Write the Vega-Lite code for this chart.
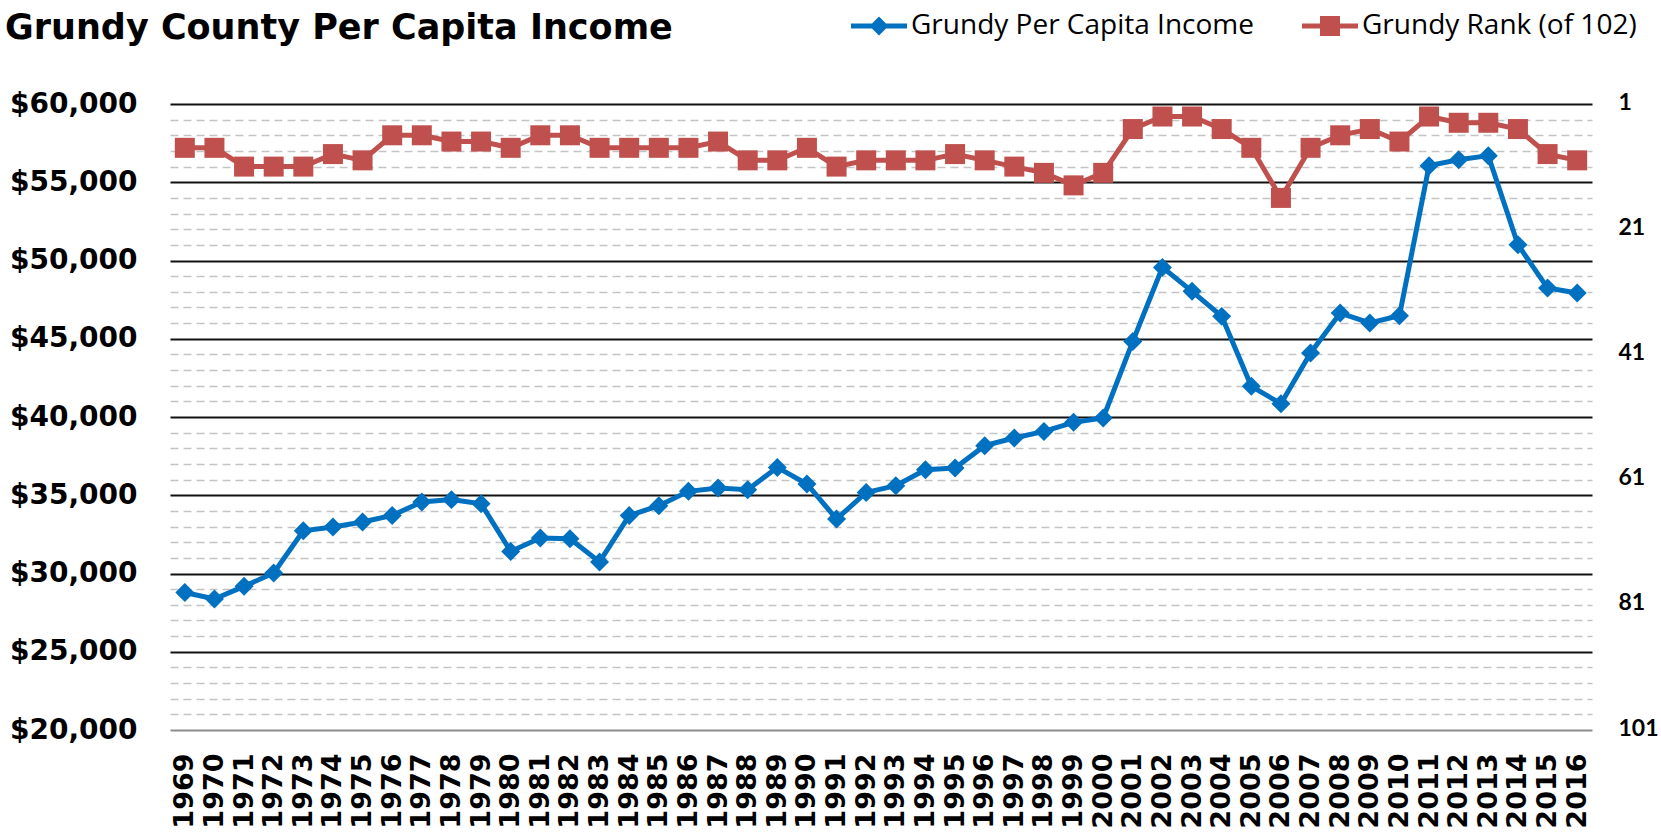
{
  "$schema": "https://vega.github.io/schema/vega-lite/v6.json",
  "width": 1422,
  "height": 626,
  "autosize": {"type": "none"},
  "padding": {"left": 170, "top": 104, "right": 69, "bottom": 106},
  "background": "white",
  "config": {"view": {"stroke": null}},
  "title": {"text": "Grundy County Per Capita Income", "anchor": "start", "frame": "group", "font": "DejaVu Sans", "fontSize": 35, "fontWeight": "bold", "color": "black", "dx": -165, "offset": 0, "dy": 34},
  "data": {"values": [
    {"year": 1969, "income": 28790, "rank": 8},
    {"year": 1970, "income": 28370, "rank": 8},
    {"year": 1971, "income": 29180, "rank": 11},
    {"year": 1972, "income": 30030, "rank": 11},
    {"year": 1973, "income": 32730, "rank": 11},
    {"year": 1974, "income": 32970, "rank": 9},
    {"year": 1975, "income": 33290, "rank": 10},
    {"year": 1976, "income": 33710, "rank": 6},
    {"year": 1977, "income": 34570, "rank": 6},
    {"year": 1978, "income": 34720, "rank": 7},
    {"year": 1979, "income": 34460, "rank": 7},
    {"year": 1980, "income": 31410, "rank": 8},
    {"year": 1981, "income": 32270, "rank": 6},
    {"year": 1982, "income": 32220, "rank": 6},
    {"year": 1983, "income": 30740, "rank": 8},
    {"year": 1984, "income": 33700, "rank": 8},
    {"year": 1985, "income": 34330, "rank": 8},
    {"year": 1986, "income": 35250, "rank": 8},
    {"year": 1987, "income": 35460, "rank": 7},
    {"year": 1988, "income": 35350, "rank": 10},
    {"year": 1989, "income": 36780, "rank": 10},
    {"year": 1990, "income": 35720, "rank": 8},
    {"year": 1991, "income": 33480, "rank": 11},
    {"year": 1992, "income": 35180, "rank": 10},
    {"year": 1993, "income": 35610, "rank": 10},
    {"year": 1994, "income": 36630, "rank": 10},
    {"year": 1995, "income": 36740, "rank": 9},
    {"year": 1996, "income": 38170, "rank": 10},
    {"year": 1997, "income": 38660, "rank": 11},
    {"year": 1998, "income": 39080, "rank": 12},
    {"year": 1999, "income": 39660, "rank": 14},
    {"year": 2000, "income": 39940, "rank": 12},
    {"year": 2001, "income": 44830, "rank": 5},
    {"year": 2002, "income": 49560, "rank": 3},
    {"year": 2003, "income": 48030, "rank": 3},
    {"year": 2004, "income": 46430, "rank": 5},
    {"year": 2005, "income": 41960, "rank": 8},
    {"year": 2006, "income": 40850, "rank": 16},
    {"year": 2007, "income": 44090, "rank": 8},
    {"year": 2008, "income": 46640, "rank": 6},
    {"year": 2009, "income": 46010, "rank": 5},
    {"year": 2010, "income": 46470, "rank": 7},
    {"year": 2011, "income": 56060, "rank": 3},
    {"year": 2012, "income": 56440, "rank": 4},
    {"year": 2013, "income": 56700, "rank": 4},
    {"year": 2014, "income": 51010, "rank": 5},
    {"year": 2015, "income": 48240, "rank": 9},
    {"year": 2016, "income": 47920, "rank": 10}
  ]},
  "encoding": {
    "x": {"field": "year", "type": "ordinal", "scale": {"type": "point", "padding": 0.5},
      "axis": {"title": null, "labelAngle": -90, "labelFont": "DejaVu Sans", "labelFontWeight": "bold", "labelFontSize": 27, "labelColor": "black", "ticks": false, "tickSize": 0, "domain": false, "grid": false, "labelPadding": 23, "labelOverlap": false}}
  },
  "layer": [
    {
      "mark": {"type": "line", "strokeWidth": 5, "point": {"shape": "diamond", "size": 360, "filled": true, "opacity": 1}},
      "encoding": {
        "y": {"field": "income", "type": "quantitative", "scale": {"domain": [20000, 60000], "nice": false, "zero": false},
          "axis": {"title": null, "orient": "left",
            "values": [20000,21000,22000,23000,24000,25000,26000,27000,28000,29000,30000,31000,32000,33000,34000,35000,36000,37000,38000,39000,40000,41000,42000,43000,44000,45000,46000,47000,48000,49000,50000,51000,52000,53000,54000,55000,56000,57000,58000,59000,60000],
            "labelExpr": "datum.value % 5000 === 0 ? '$' + format(datum.value, ',') : ''",
            "labelFont": "DejaVu Sans", "labelFontWeight": "bold", "labelFontSize": 28, "labelColor": "black", "labelPadding": 33, "labelOverlap": false, "labelBound": false, "labelFlush": false,
            "ticks": false, "tickSize": 0, "domain": false, "grid": true,
            "gridColor": {"condition": [{"test": "datum.value === 20000", "value": "#8c8c8c"}, {"test": "datum.value % 5000 === 0", "value": "#111111"}], "value": "#c4c4c4"},
            "gridDash": {"condition": {"test": "datum.value % 5000 === 0", "value": []}, "value": [8, 5]},
            "gridWidth": {"condition": {"test": "datum.value % 5000 === 0", "value": 1.8}, "value": 1.6}}},
        "color": {"datum": "Grundy Per Capita Income", "type": "nominal",
          "scale": {"domain": ["Grundy Per Capita Income", "Grundy Rank (of 102)"], "range": ["#0070C0", "#C0504D"]},
          "legend": {"orient": "none", "legendX": 677, "legendY": -92, "direction": "horizontal", "title": null, "padding": 0,
            "labelFont": "Open Sans", "labelFontSize": 28, "labelColor": "black", "labelLimit": 500, "symbolSize": 400, "symbolStrokeWidth": 0, "labelOffset": 36, "columnPadding": 44,
            "encode": {"symbols": {"update": {
              "shape": {"signal": "datum.value === 'Grundy Rank (of 102)' ? 'M-1,-0.25H4.6V0.25H-1Z M0.8,-1H2.8V1H0.8Z' : 'M-1,-0.25H4.6V0.25H-1Z M1.8,-0.95L2.75,0L1.8,0.95L0.85,0Z'"},
              "fill": {"signal": "datum.value === 'Grundy Rank (of 102)' ? '#C0504D' : '#0070C0'"},
              "fillOpacity": {"value": 1},
              "opacity": {"value": 1},
              "strokeWidth": {"value": 0},
              "size": {"value": 400}}}}}}
      }
    },
    {
      "mark": {"type": "line", "strokeWidth": 5, "point": {"shape": "square", "size": 400, "filled": true, "opacity": 1}},
      "encoding": {
        "y": {"field": "rank", "type": "quantitative", "scale": {"domain": [1, 101], "reverse": true, "nice": false, "zero": false},
          "axis": {"title": null, "orient": "right", "values": [1, 21, 41, 61, 81, 101],
            "labelFont": "Lato", "labelFontWeight": "bold", "labelFontSize": 23, "labelColor": "black", "labelPadding": 26, "labelOffset": -2, "labelOverlap": false, "labelBound": false, "labelFlush": false,
            "ticks": false, "tickSize": 0, "domain": false, "grid": false}},
        "color": {"datum": "Grundy Rank (of 102)", "type": "nominal"}
      }
    }
  ],
  "resolve": {"scale": {"y": "independent"}}
}
